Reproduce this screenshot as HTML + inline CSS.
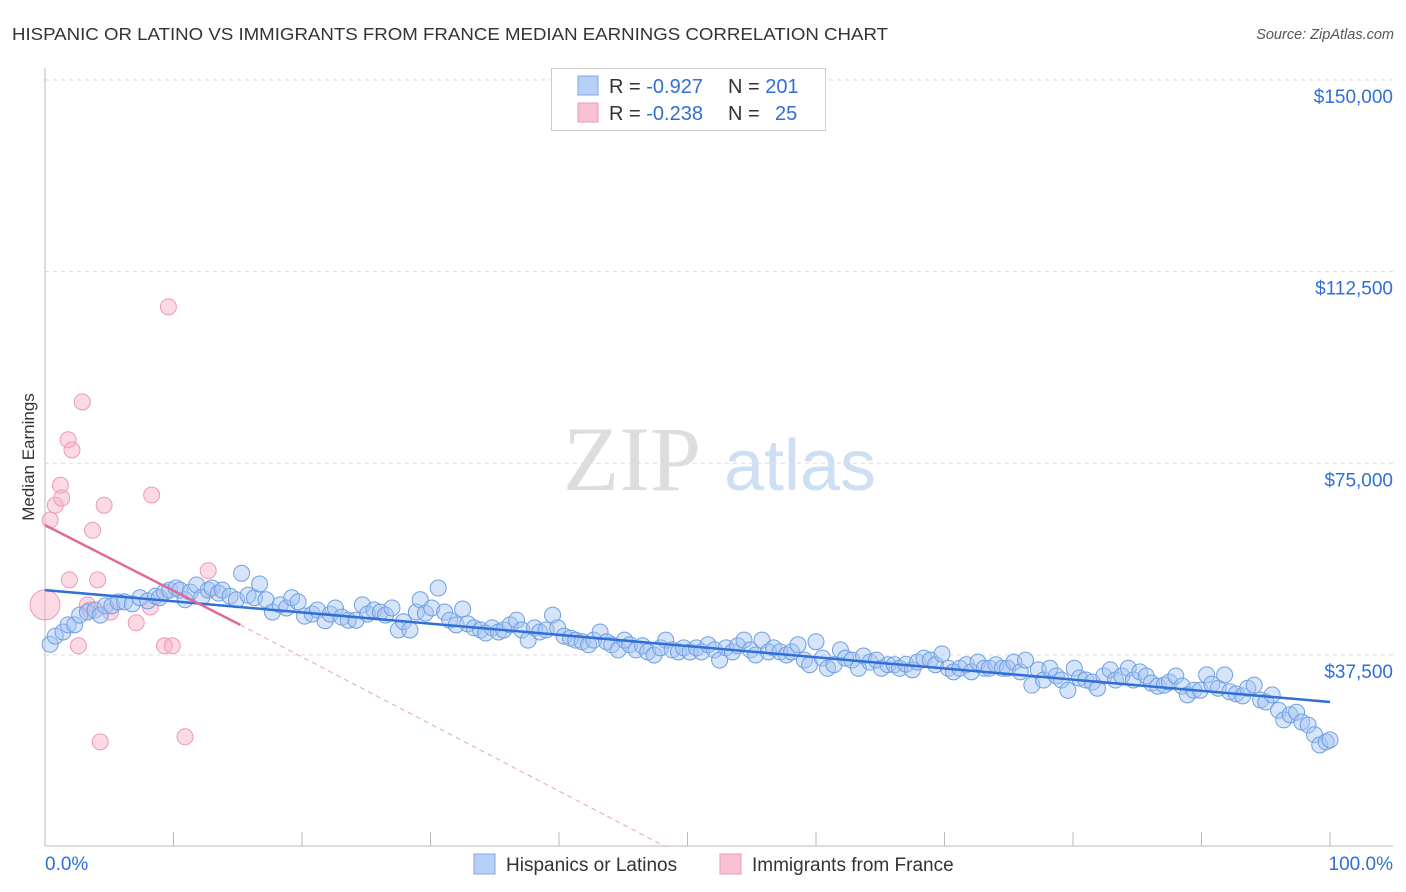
<!DOCTYPE html>
<html><head><meta charset="utf-8"><style>
body{margin:0;background:#fff;font-family:"Liberation Sans",sans-serif}
svg{display:block}
</style></head><body>
<svg id="chart" width="1406" height="892">
<text x="12" y="40" font-size="17.5" fill="#333" textLength="876" lengthAdjust="spacingAndGlyphs">HISPANIC OR LATINO VS IMMIGRANTS FROM FRANCE MEDIAN EARNINGS CORRELATION CHART</text>
<text x="1394" y="39" font-size="14.5" fill="#555" font-style="italic" text-anchor="end">Source: ZipAtlas.com</text>
<text x="34" y="457" font-size="17" fill="#333" text-anchor="middle" transform="rotate(-90 34 457)">Median Earnings</text>
<g><text x="632" y="490" font-size="92" fill="#ddd" font-family="Liberation Serif,serif" text-anchor="middle">ZIP</text><text x="800" y="490" font-size="72" fill="#cfdff3" text-anchor="middle">atlas</text></g>
<g id="grid"></g><g id="axes"></g><g id="trend"></g><g id="pts"></g>
<g>
<rect x="551.5" y="68.5" width="274" height="62" fill="#fff" stroke="#ccc"/>
<rect x="578" y="76" width="20" height="19" fill="#b8d0f5" stroke="#7ea6e6"/>
<rect x="578" y="103" width="20" height="19" fill="#f8c2d3" stroke="#e99ab5"/>
<text x="609" y="93" font-size="20" fill="#333">R = <tspan fill="#2f6fd6">-0.927</tspan><tspan x="728">N = </tspan><tspan fill="#2f6fd6">201</tspan></text>
<text x="609" y="120" font-size="20" fill="#333">R = <tspan fill="#2f6fd6">-0.238</tspan><tspan x="728">N = </tspan><tspan fill="#2f6fd6" x="775">25</tspan></text>
</g>
<g>
<rect x="474" y="854" width="21" height="20" fill="#b8d0f5" stroke="#7ea6e6"/>
<text x="506" y="871" font-size="19" fill="#333">Hispanics or Latinos</text>
<rect x="720" y="854" width="21" height="20" fill="#f8c2d3" stroke="#e99ab5"/>
<text x="752" y="871" font-size="19" fill="#333">Immigrants from France</text>
</g>
</svg>
<script>
const yTicks=[37500,75000,112500,150000];
const yTickLabels=["$37,500","$75,000","$112,500","$150,000"];
const xTicks=[0,10,20,30,40,50,60,70,80,90,100];
const bluePct=[0.4,0.8,1.4,1.8,2.3,2.7,3.3,3.9,4.3,4.7,5.2,5.7,6.2,6.8,7.4,8.0,8.6,8.9,9.3,9.7,10.2,10.5,10.9,11.3,11.8,12.2,12.7,13.0,13.5,13.8,14.4,14.9,15.3,15.8,16.3,16.7,17.2,17.7,18.3,18.8,19.2,19.7,20.2,20.8,21.2,21.8,22.2,22.6,23.1,23.6,24.2,24.7,25.1,25.6,26.1,26.5,27.0,27.5,27.9,28.4,28.9,29.2,29.6,30.1,30.6,31.1,31.5,32.0,32.5,32.9,33.4,33.9,34.3,34.8,35.3,35.7,36.2,36.7,37.1,37.6,38.1,38.5,39.0,39.5,39.9,40.4,40.9,41.3,41.8,42.3,42.7,43.2,43.7,44.1,44.6,45.1,45.5,46.0,46.5,46.9,47.4,47.9,48.3,48.8,49.3,49.7,50.2,50.7,51.1,51.6,52.1,52.5,53.0,53.5,53.9,54.4,54.9,55.3,55.8,56.3,56.7,57.2,57.7,58.1,58.6,59.1,59.5,60.0,60.5,60.9,61.4,61.9,62.3,62.8,63.3,63.7,64.2,64.7,65.1,65.6,66.1,66.5,67.0,67.5,67.9,68.4,68.9,69.3,69.8,70.3,70.7,71.2,71.7,72.1,72.6,73.1,73.5,74.0,74.5,74.9,75.4,75.9,76.3,76.8,77.3,77.7,78.2,78.7,79.1,79.6,80.1,80.5,81.0,81.5,81.9,82.4,82.9,83.3,83.8,84.3,84.7,85.2,85.7,86.1,86.6,87.1,87.5,88.0,88.5,88.9,89.4,89.9,90.4,90.8,91.3,91.8,92.2,92.7,93.2,93.6,94.1,94.6,95.0,95.5,96.0,96.4,96.9,97.4,97.8,98.3,98.8,99.2,99.7,100];
const blueK=[39.6,41.2,42.0,43.4,43.4,45.3,45.9,46.3,45.3,47.1,47.1,47.9,47.9,47.5,48.7,48.1,49.0,48.7,49.8,50.2,50.6,50.2,48.3,49.8,51.2,48.8,50.2,50.6,49.6,50.2,49.0,48.3,53.5,49.2,48.7,51.4,48.3,45.9,47.3,46.7,48.7,47.9,45.1,45.5,46.3,44.2,45.5,46.7,44.9,44.3,44.3,47.3,45.5,46.3,45.9,45.3,46.7,42.4,44.0,42.4,45.9,48.3,45.7,46.7,50.6,45.9,44.3,43.4,46.5,43.6,42.8,42.4,41.8,42.8,42.0,42.4,43.4,44.3,42.4,40.4,42.8,42.0,42.4,45.3,42.8,41.2,40.8,40.4,40.1,39.5,40.4,42.0,40.1,39.5,38.5,40.4,39.5,38.5,39.3,38.1,37.5,38.9,40.4,38.5,38.1,38.9,38.1,38.9,38.1,39.5,38.5,36.5,38.9,38.1,39.3,40.4,38.5,37.5,40.4,38.1,38.9,38.1,37.5,38.1,39.5,36.5,35.6,40.1,36.9,34.9,35.6,38.5,36.9,36.5,34.9,37.3,36.1,36.5,34.9,35.6,35.6,34.9,35.7,34.6,36.1,36.9,36.5,35.6,37.7,34.9,34.2,34.9,35.6,34.2,36.1,34.9,34.9,35.6,34.9,34.9,36.1,34.2,36.5,31.6,34.6,32.6,34.9,33.4,32.6,30.6,34.9,33.0,32.6,32.2,31.0,33.4,34.6,32.6,33.4,34.9,32.6,34.2,33.4,32.0,31.4,31.6,32.2,33.4,31.4,29.7,30.6,30.6,33.6,31.8,31.0,33.6,30.3,29.9,29.5,31.0,31.6,28.7,28.3,29.7,26.7,24.8,25.8,26.3,24.4,23.8,21.9,19.9,20.5,20.9];
const pinkPct=[0,0.4,0.8,1.2,1.3,1.8,2.1,1.9,2.6,2.9,3.3,3.7,4.1,4.3,4.6,5.1,7.1,8.2,8.3,9.3,9.9,10.9,9.6,12.7,3.5];
const pinkK=[47.3,63.9,66.8,70.7,68.2,79.6,77.6,52.2,39.3,87.0,47.3,61.9,52.2,20.5,66.8,45.9,43.8,46.9,68.8,39.3,39.3,21.5,105.6,54.0,46.3];
const blueTrendPct=[0,100];const blueTrendK=[50.2,28.3];
const pinkTrendPct=[0,15.2];const pinkTrendK=[62.9,43.4];
const pinkDashPct=[15.2,48.3];const pinkDashK=[43.4,0];

const NS="http://www.w3.org/2000/svg";
const X0=45,X1=1330,YB=846.7,PXK=191.7/37.5;
const xs=p=>X0+p*(X1-X0)/100;
const ys=k=>YB-k*PXK;
function mk(tag,attrs,parent){const e=document.createElementNS(NS,tag);for(const a in attrs)e.setAttribute(a,attrs[a]);document.getElementById(parent).appendChild(e);return e;}
yTicks.forEach((t,i)=>{
  const y=ys(t/1000);
  const g=mk('line',{x1:X0,x2:1393,y1:y,y2:y,stroke:'#ddd','stroke-dasharray':'4,4'},'grid');
  
  
  const l=mk('text',{x:1393,y:y+23,'font-size':19,fill:'#2f6fd6','text-anchor':'end'},'axes');
  l.textContent=yTickLabels[i];
  
  
});
const topg=mk('line',{x1:X0,x2:1393,y1:80,y2:80,stroke:'#ddd','stroke-dasharray':'4,4'},'grid');


const ya=mk('line',{x1:X0,x2:X0,y1:68,y2:846,stroke:'#bbb'},'axes');


const xa=mk('line',{x1:X0,x2:1393,y1:846,y2:846,stroke:'#bbb'},'axes');


xTicks.forEach(t=>{const x=xs(t);const tk=mk('line',{x1:x,x2:x,y1:832,y2:846,stroke:'#bbb'},'axes');

});
const xl=mk('text',{x:45,y:870,'font-size':19,fill:'#2f6fd6'},'axes');xl.textContent='0.0%';


const xr=mk('text',{x:1393,y:870,'font-size':19,fill:'#2f6fd6','text-anchor':'end'},'axes');xr.textContent='100.0%';


pinkPct.forEach((p,i)=>{const c=mk('circle',{cx:xs(p),cy:ys(pinkK[i]),r:i===0?15:8,fill:'rgba(246,172,197,0.45)',stroke:'#eb9ab7','stroke-width':1},'pts');

});
bluePct.forEach((p,i)=>{const c=mk('circle',{cx:xs(p),cy:ys(blueK[i]),r:8,fill:'rgba(165,195,243,0.45)',stroke:'#6f9fe0','stroke-width':1},'pts');

});
const bt=mk('line',{x1:xs(blueTrendPct[0]),y1:ys(blueTrendK[0]),x2:xs(blueTrendPct[1]),y2:ys(blueTrendK[1]),stroke:'#2f6fd6','stroke-width':2.5},'trend');


const pt=mk('line',{x1:xs(pinkTrendPct[0]),y1:ys(pinkTrendK[0]),x2:xs(pinkTrendPct[1]),y2:ys(pinkTrendK[1]),stroke:'#e06a95','stroke-width':2.5},'trend');


const pd=mk('line',{x1:xs(pinkDashPct[0]),y1:ys(pinkDashK[0]),x2:xs(pinkDashPct[1]),y2:ys(pinkDashK[1]),stroke:'#eaa0ba','stroke-width':1,'stroke-dasharray':'5,4'},'trend');


document.getElementById('chart').appendChild(document.getElementById('trend'));
</script>
</body></html>
